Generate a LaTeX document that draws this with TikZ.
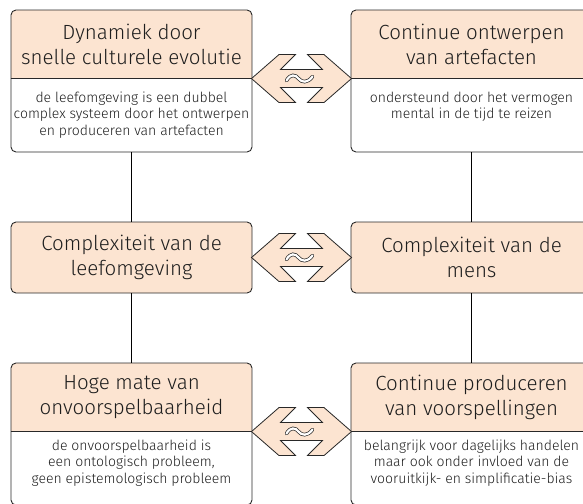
\documentclass[tikz,border=0pt]{standalone}
\usepackage{fontspec}
\IfFontExistsTF{Fira Sans Light}{\setmainfont{Fira Sans Light}}{\setmainfont{Fira Sans}}
\usepackage{tikz}
\usetikzlibrary{calc}
\usetikzlibrary{positioning}

\definecolor{kopkleur}{RGB}{252,228,209}
\definecolor{randkleur}{RGB}{40,40,40}
\definecolor{tekstkleur}{RGB}{30,30,30}

\begin{document}
\begin{tikzpicture}[x=1pt,y=-1pt,
		blok/.style={draw=randkleur, line width=0.9pt, rounded corners=5pt, minimum width=241pt, minimum height=142pt, inner sep=0pt,
			path picture={\fill[kopkleur, sharp corners] (path picture bounding box.north west) rectangle ([yshift=-69pt]path picture bounding box.north east);}},
		kopblok/.style={draw=randkleur, line width=0.9pt, rounded corners=5pt, fill=kopkleur, minimum width=241pt, minimum height=71pt,
			align=center, text=tekstkleur, font={\fontsize{20.5}{25}\selectfont}},
		kop/.style={align=center, inner sep=0pt, text=tekstkleur, font={\fontsize{20.5}{25}\selectfont}},
		uitleg/.style={align=center, inner sep=0pt, anchor=north, text=tekstkleur, font={\fontsize{14}{16.5}\selectfont}},
		scheiding/.style={draw=randkleur, line width=0.9pt},
		verbinding/.style={draw=black, line width=0.9pt},
		pics/wissel/.style={code={
			\draw[randkleur, line width=0.8pt, fill=kopkleur, line join=miter]
				(-50,0) -- (-22.5,-24) -- (-6,-24) -- (-21,-9) -- (21,-9) -- (6,-24) -- (22.5,-24) -- (50,0)
				-- (22.5,24) -- (6,24) -- (21,9) -- (-21,9) -- (-6,24) -- (-22.5,24) -- cycle;
			\draw[randkleur, line width=0.7pt, double=white, double distance=2.2pt, line cap=round]
				(-15,2) .. controls (-11,-5) and (-6,-4) .. (-3,0) .. controls (0,4) and (6,5) .. (11,-2);
		}}]
				\useasboundingbox (0,0) rectangle (583,503);
				\clip (0,0) rectangle (583,503); % Boxes on the right and bottom run off the page
				
				% Top row
				\node[blok] (dynamiek) at (131.5,81) {};
				\node[blok] (ontwerpen) at (471.5,81) {};
				% Middle row
				\node[kopblok] (leefomgeving) at (131.5,257.5) {Complexiteit van de\\leefomgeving};
				\node[kopblok] (mens) at (471.5,257.5) {Complexiteit van de\\mens};
				% Bottom row
				\node[blok] (onvoorspelbaar) at (131.5,434) {};
				\node[blok] (voorspellingen) at (471.5,434) {};
				
				\draw[scheiding] ([yshift=-69pt]dynamiek.north west) -- ([yshift=-69pt]dynamiek.north east);
				\draw[scheiding] ([yshift=-69pt]ontwerpen.north west) -- ([yshift=-69pt]ontwerpen.north east);
				\draw[scheiding] ([yshift=-69pt]onvoorspelbaar.north west) -- ([yshift=-69pt]onvoorspelbaar.north east);
				\draw[scheiding] ([yshift=-69pt]voorspellingen.north west) -- ([yshift=-69pt]voorspellingen.north east);
				
				\node[kop] (dynamiekKop) at ([yshift=-34.5pt]dynamiek.north) {Dynamiek door\\snelle culturele evolutie};
				\node[uitleg] (dynamiekTekst) at ([yshift=-82pt]dynamiek.north) {de leefomgeving is een dubbel\\complex systeem door het ontwerpen\\en produceren van artefacten};
				\node[kop] (ontwerpenKop) at ([yshift=-34.5pt]ontwerpen.north) {Continue ontwerpen\\van artefacten};
				\node[uitleg] (ontwerpenTekst) at ([yshift=-82pt]ontwerpen.north) {ondersteund door het vermogen\\mental in de tijd te reizen};
				\node[kop] (onvoorspelbaarKop) at ([yshift=-34.5pt]onvoorspelbaar.north) {Hoge mate van\\onvoorspelbaarheid};
				\node[uitleg] (onvoorspelbaarTekst) at ([yshift=-77pt]onvoorspelbaar.north) {de onvoorspelbaarheid is\\een ontologisch probleem,\\geen epistemologisch probleem};
				\node[kop] (voorspellingenKop) at ([yshift=-34.5pt]voorspellingen.north) {Continue produceren\\van voorspellingen};
				\node[uitleg] (voorspellingenTekst) at ([yshift=-77pt]voorspellingen.north) {belangrijk voor dagelijks handelen\\maar ook onder invloed van de\\vooruitkijk- en simplificatie-bias};
				
				% Vertical links between the rows
				\draw[verbinding] (dynamiek) -- (leefomgeving);
				\draw[verbinding] (leefomgeving) -- (onvoorspelbaar);
				\draw[verbinding] (ontwerpen) -- (mens);
				\draw[verbinding] (mens) -- (voorspellingen);
				
				% Double chevrons between the columns
				\coordinate (bovenMidden) at ($(dynamiek.north east)!0.5!(ontwerpen.north west)$);
				\coordinate (onderMidden) at ($(onvoorspelbaar.north east)!0.5!(voorspellingen.north west)$);
				\pic at ([yshift=-69pt]bovenMidden) {wissel};
				\pic at ($(leefomgeving.east)!0.5!(mens.west)$) {wissel};
				\pic at ([yshift=-69pt]onderMidden) {wissel};
				
\end{tikzpicture}
\end{document}
